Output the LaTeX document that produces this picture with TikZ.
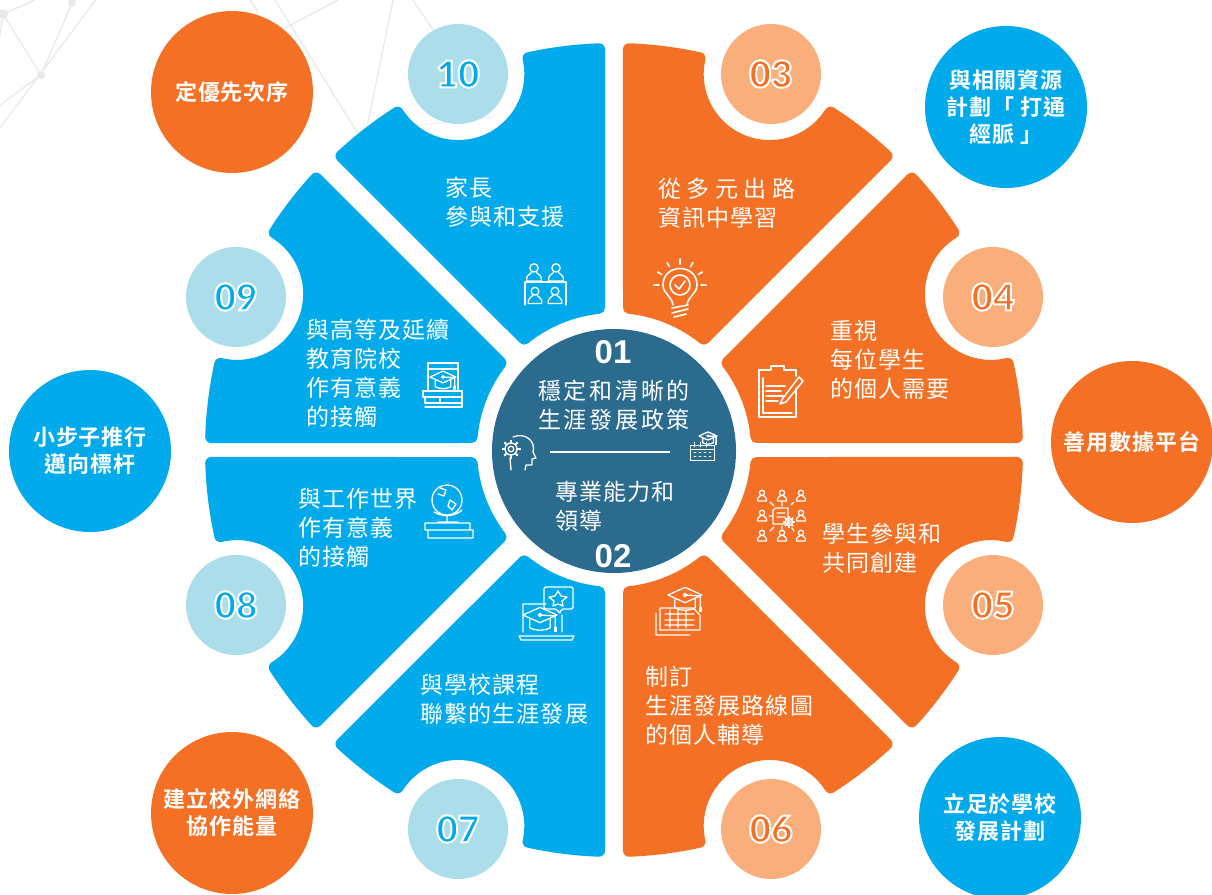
\documentclass[tikz,border=0pt]{standalone}
\usepackage{fontspec}
\setmainfont{Liberation Sans}
\newfontfamily\numfont{Lato Black}
\newfontfamily\cjkfont[LetterSpace=5]{Noto Sans CJK TC}
\newfontfamily\cjkboldfont[LetterSpace=4,BoldFont={Noto Sans CJK TC Bold}]{Noto Sans CJK TC}
\usetikzlibrary{positioning}
\definecolor{wingblue}{HTML}{00AAEB}
\definecolor{wingorange}{HTML}{F47024}
\definecolor{hubblue}{HTML}{2A6B8E}
\definecolor{paleblue}{HTML}{ABDDEB}
\definecolor{paleorange}{HTML}{FAAE7B}
\definecolor{netgray}{HTML}{E9E9E9}
\newcommand{\outlined}[1]{\special{pdf:code 2 Tr 2 w 1 1 1 RG}#1\special{pdf:code 0 Tr}}
\tikzset{
    petalshape/.style={fill,draw,line width=12pt,line join=round},
    petalnear/.pic={
        \path[petalshape] (92.14:401) arc[start angle=92.14,end angle=102.31,radius=401]
            arc[start angle=12.7,end angle=-147.6,radius=72]
            arc[start angle=122.69,end angle=132.83,radius=401]
            -- (128.9:143) arc[start angle=128.9,end angle=96.02,radius=143] -- cycle;
    },
    petalfar/.pic={
        \path[petalshape] (137.66:403) arc[start angle=137.66,end angle=147.34,radius=403]
            arc[start angle=58.5,end angle=-103.5,radius=72]
            arc[start angle=167.66,end angle=178.15,radius=403]
            -- (174.78:143) arc[start angle=174.78,end angle=142.5,radius=143] -- cycle;
    },
    iconline/.style={draw=white,line width=1.3pt,line cap=round,line join=round},
    gradcap/.pic={
        \draw[iconline] (-1,0) -- (0,-.45) -- (1,0) -- (0,.45) -- cycle
            (-.6,.27) -- (-.6,.75) .. controls (-.2,.95) and (.2,.95) .. (.6,.75) -- (.6,.27)
            (0,0) circle[radius=.1] (0,0) -- (.9,.05) -- (.9,.7);
        \fill[white] (.8,.7) rectangle (1,1);
    },
    person/.pic={
        \draw[iconline] (0,-3.2) circle[radius=2.6]
            (-4.5,5) -- (-4.5,3) .. controls (-4.5,1) and (-2,1) .. (-1.4,-.4)
            (4.5,5) -- (4.5,3) .. controls (4.5,1) and (2,1) .. (1.4,-.4)
            (-4.5,5) -- (4.5,5);
    },
    gearwheel/.pic={
        \draw[iconline] (0,0) circle[radius=.6] (0,0) circle[radius=.28];
        \foreach \ang in {0,45,...,315} {
            \draw[iconline,line width=1.8pt,line cap=butt] (\ang:.6) -- (\ang:.95);
        }
    },
    petaltext/.style={text=white,anchor=north west,align=left,inner sep=0pt,
        font=\cjkfont\fontsize{23}{29}\selectfont},
    bubble/.style={circle,minimum size=162pt,inner sep=0pt,align=center,text=white,
        font=\cjkboldfont\bfseries\fontsize{22}{27}\selectfont},
    numbubble/.style={circle,minimum size=100pt,inner sep=0pt,font=\numfont\fontsize{37}{37}\selectfont},
    hubnum/.style={text=white,inner sep=0pt,font=\bfseries\fontsize{33}{33}\selectfont},
}
\begin{document}
\begin{tikzpicture}[x=1pt,y=-1pt]
    \clip (0,0) rectangle (1212,894);
    % faint network behind everything
    \draw[netgray,line width=1.3pt] (3,14) -- (41,75) -- (72,3) (97,-2) -- (0,128) (41,75) -- (0,105)
        (3,14) -- (35,0) (3,14) -- (0,35) (275,0) -- (357,132) (250,0) -- (258,12) (338,0) -- (285,28)
        (393,0) -- (368,123) (413,0) -- (433,30);
    \draw[netgray!60,line width=1.3pt] (357,132) -- (493,117);
    \fill[netgray] (3,14) circle[radius=5] (72,3) circle[radius=4] (41,75) circle[radius=4];

    % the ten petals
    \pic[color=wingblue,shift={(614,450)},yscale=-1] (petal10) {petalnear};
    \pic[color=wingblue,shift={(614,450)},yscale=-1] (petal09) {petalfar};
    \pic[color=wingblue,shift={(614,450)}] (petal08) {petalfar};
    \pic[color=wingblue,shift={(614,450)}] (petal07) {petalnear};
    \pic[color=wingorange,shift={(614,450)},xscale=-1,yscale=-1] (petal03) {petalnear};
    \pic[color=wingorange,shift={(614,450)},xscale=-1,yscale=-1] (petal04) {petalfar};
    \pic[color=wingorange,shift={(614,450)},xscale=-1] (petal05) {petalfar};
    \pic[color=wingorange,shift={(614,450)},xscale=-1] (petal06) {petalnear};

    % number discs
    \node[numbubble,fill=paleblue,text=wingblue] (num10) at (458,74) {\outlined{10}};
    \node[numbubble,fill=paleblue,text=wingblue] (num09) at (236,297) {\outlined{09}};
    \node[numbubble,fill=paleblue,text=wingblue] (num08) at (236,605) {\outlined{08}};
    \node[numbubble,fill=paleblue,text=wingblue] (num07) at (458,829) {\outlined{07}};
    \node[numbubble,fill=paleorange,text=wingorange] (num03) at (771,74) {\outlined{03}};
    \node[numbubble,fill=paleorange,text=wingorange] (num04) at (993,297) {\outlined{04}};
    \node[numbubble,fill=paleorange,text=wingorange] (num05) at (993,605) {\outlined{05}};
    \node[numbubble,fill=paleorange,text=wingorange] (num06) at (771,829) {\outlined{06}};

    % outer bubbles
    \node[bubble,fill=wingorange] (prio) at (232,92) {\raisebox{2pt}{定優先次序}};
    \node[bubble,fill=wingblue] (links) at (1006,107) {與相關資源\\計劃「 打通\\經脈 」};
    \node[bubble,fill=wingorange] (data) at (1132,442) {善用數據平台};
    \node[bubble,fill=wingblue] (plan) at (1000,818) {立足於學校\\發展計劃};
    \node[bubble,fill=wingorange] (ext) at (232,813) {建立校外網絡\\協作能量};
    \node[bubble,fill=wingblue] (steps) at (90,451) {小步子推行\\邁向標杆};

    % centre
    \node[circle,fill=hubblue,minimum size=244pt,inner sep=0pt] (hub) at (614,451) {};
    \node[hubnum] (hub01) at (613,352) {01};
    \node[hubnum] (hub02) at (613,556) {02};
    \node[petaltext,font=\cjkfont\addfontfeature{LetterSpace=12}\fontsize{23}{29}\selectfont] (policy) at (538,379.5) {穩定和清晰的\\生涯發展政策};
    \node[petaltext] (lead) at (555,481) {專業能力和\\領導};
    \coordinate (ruleA) at (550,451.5);
    \coordinate (ruleB) at (670,451.5);
    \draw[white,line width=2pt] (ruleA) -- (ruleB);

    % petal labels
    \node[petaltext] (txt10) at (445,177) {家長\\參與和支援};
    \node[petaltext] (txt03) at (658,177.5) {{\addfontfeature{LetterSpace=24}從多元出路}\\資訊中學習};
    \node[petaltext] (txt04) at (830,320.5) {重視\\每位學生\\的個人需要};
    \node[petaltext] (txt05) at (822,522.5) {學生參與和\\共同創建};
    \node[petaltext] (txt06) at (645,665.5) {制訂\\生涯發展路線圖\\的個人輔導};
    \node[petaltext] (txt07) at (420,673.5) {與學校課程\\聯繫的生涯發展};
    \node[petaltext] (txt08) at (298,488.5) {與工作世界\\作有意義\\的接觸};
    \node[petaltext] (txt09) at (306,318.5) {與高等及延續\\教育院校\\作有意義\\的接觸};

    % icons, petal 10: people at a table
    \pic[scale=1.6] at (534,273) {person};
    \pic[scale=1.6] at (556,273) {person};
    \pic[scale=1.5] at (535,296) {person};
    \pic[scale=1.5] at (555,296) {person};
    \draw[iconline] (525,282) -- (566,282) (525,282) -- (525,305) (566,282) -- (566,305);

    % icon, petal 03: bulb
    \draw[iconline,line width=1.6pt] (673,305) .. controls (672,296) and (663,294) .. (663,285)
        .. controls (663,263) and (697,263) .. (697,285) .. controls (697,294) and (688,296) .. (687,305)
        (680,285) circle[radius=10] (675,285) -- (679,289) -- (685,281)
        (672,308) -- (688,305) (672,313) -- (688,309) (674,317) -- (686,314);
    \foreach \ang in {180,210,240,270,300,330,360} {
        \draw[iconline,line width=1.6pt,shift={(680,285)}] (\ang:21) -- (\ang:26);
    }

    % icon, petal 04: clipboard
    \draw[iconline,line width=1.5pt] (796,388) -- (796,417) -- (759,417) -- (759,370) -- (771,370) -- (771,366) -- (784,366) -- (784,370) -- (796,370) -- (796,376)
        (763,378) -- (763,413) -- (792,413) (766,386) -- (785,386) (766,391) -- (781,391) (766,396) -- (785,396) (766,401) -- (778,401);
    \draw[iconline,line width=1.5pt] (783,398) -- (780,404) -- (786,402) -- (803,381) -- (799,377) -- cycle;

    % icon, petal 05: people around a sheet
    \foreach \px/\py in {762/496,782/496,801/496,762/516,801/516,762/536,782/536,801/536} {
        \pic at (\px,\py) {person};
    }
    \draw[iconline] (773,510) -- (773,524) -- (788,524) -- (788,508) -- (776,508) -- cycle
        (777,513) -- (785,513) (777,517) -- (785,517) (769,516) -- (773,516) (782,502) -- (782,506)
        (770,502) -- (774,506) (794,502) -- (791,505) (770,531) -- (774,527) (782,526) -- (782,529) (794,531) -- (792,528);
    \pic[scale=6] at (789,522) {gearwheel};

    % icon, petal 06: calendar with cap
    \draw[iconline] (660,608) -- (693,608) -- (700,615) -- (700,630) -- (660,630) -- cycle
        (656,613) -- (656,635) -- (690,635) (665,614) -- (694,614) (665,620) -- (694,620) (665,625) -- (694,625)
        (670,610) -- (670,628) (678,610) -- (678,628) (686,610) -- (686,628);
    \pic[scale=17] at (685,595) {gradcap};

    % icon, petal 07: laptop with speech balloon
    \draw[iconline] (523,632) -- (523,604) -- (546,604) (562,615) -- (562,632) (519,636) -- (574,636) -- (572,640) -- (521,640) -- cycle;
    \pic[scale=17] at (540,615) {gradcap};
    \draw[iconline,rounded corners=2pt] (544,587) -- (573,587) -- (573,609) -- (561,609) -- (560,614) -- (557,609) -- (544,609) -- cycle;
    \draw[iconline] (558,591) -- (561,596) -- (567,597) -- (562,601) -- (563,606) -- (558,604) -- (553,606) -- (554,601) -- (549,597) -- (555,596) -- cycle;

    % icon, petal 08: globe on books
    \draw[iconline] (447,500) circle[radius=15] (447,515) -- (447,522) (438,522) -- (458,522) (462,510) .. controls (456,516) and (444,518) .. (434,512)
        (440,488) -- (446,490) -- (444,496) -- (438,494) (450,500) -- (456,504) -- (452,510) -- (448,506) -- cycle
        (425,523) -- (470,523) -- (470,530) -- (425,530) -- cycle (428,530) -- (473,530) -- (473,538) -- (428,538) -- cycle;

    % icon, petal 09: screen above books
    \draw[iconline] (428,391) -- (428,363) -- (458,363) -- (458,391) (428,369) -- (458,369) (423,391) -- (462,391) -- (462,397) -- (423,397) -- cycle (425,397) -- (462,397) -- (462,403) -- (425,403) -- cycle (425,403) -- (462,403) -- (462,407) -- (425,407) (440,397) -- (440,403);
    \pic[scale=13] at (443,377) {gradcap};

    % icons in the hub
    \draw[iconline] (513,437) .. controls (525,432) and (536,441) .. (533,452) -- (536,458) -- (532,459) -- (532,465) -- (526,465) -- (525,470) (510,458) -- (511,470);
    \pic[scale=10] at (511,449) {gearwheel};
    \draw[iconline,line width=.8pt] (690,445) -- (714,445) -- (714,460) -- (690,460) -- cycle (690,449) -- (714,449)
        (694,442) -- (694,447) (700,442) -- (700,447) (706,442) -- (706,447);
    \foreach \px in {694,699,704,709} {
        \draw[iconline,line width=.8pt] (\px,452) -- (\px+2,452) (\px,456) -- (\px+2,456);
    }
    \pic[scale=9] at (708,436) {gradcap};
\end{tikzpicture}
\end{document}
